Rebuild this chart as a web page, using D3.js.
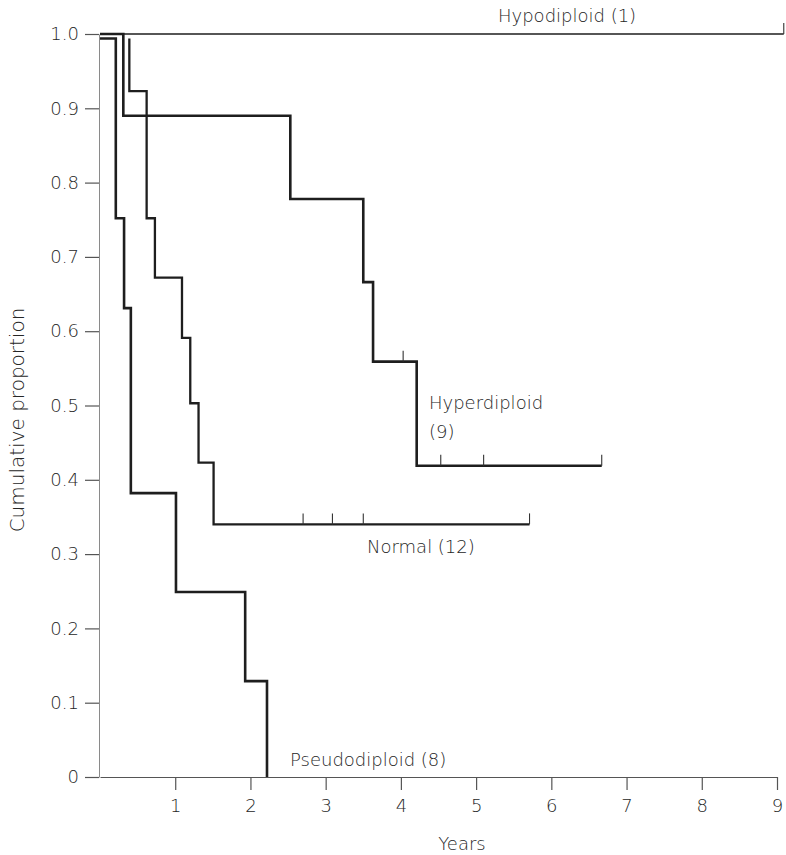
<!DOCTYPE html>
<html>
<head>
<meta charset="utf-8">
<script src="https://cdn.jsdelivr.net/npm/d3@7"></script>
<style>
  html, body { margin: 0; padding: 0; background: #fff; }
  svg { display: block; }
  text { font-family: "DejaVu Sans", "Liberation Sans", sans-serif; fill: #262626; font-weight: 200; }
</style>
</head>
<body>
<svg id="chart" width="786" height="855"></svg>
<script>
// Kaplan-Meier style step curves by karyotype group (years from diagnosis)

// Pseudodiploid (8)
const pseudoTimes = [0, 0.21, 0.32, 0.41, 1.01, 1.93, 2.22];
const pseudoSurv  = [0.994, 0.752, 0.631, 0.382, 0.249, 0.129, 0];
const pseudoEnd   = 2.22;
const pseudoCensor = [];

// Normal (12)
const normalTimes = [0.39, 0.39, 0.62, 0.73, 1.09, 1.20, 1.31, 1.51];
const normalSurv  = [0.994, 0.923, 0.752, 0.672, 0.591, 0.503, 0.423, 0.340];
const normalEnd   = 5.71;
const normalCensor = [2.70, 3.09, 3.50, 5.71];

// Hyperdiploid (9)
const hyperTimes = [0, 0.31, 2.53, 3.50, 3.63, 4.21];
const hyperSurv  = [1.0, 0.890, 0.778, 0.666, 0.559, 0.419];
const hyperEnd   = 6.67;
const hyperCensor = [4.03, 4.53, 5.10, 6.67];

// Hypodiploid (1)
const hypoTimes = [0];
const hypoSurv  = [1.0];
const hypoEnd   = 9.09;
const hypoCensor = [9.09];

// Axis ticks
const xTicks = [1, 2, 3, 4, 5, 6, 7, 8, 9];
const yTicks = [0, 0.1, 0.2, 0.3, 0.4, 0.5, 0.6, 0.7, 0.8, 0.9, 1.0];

const svg = d3.select("#chart");
const x = d3.scaleLinear().domain([0, 9]).range([100, 777]);
const y = d3.scaleLinear().domain([0, 1]).range([777, 34]);

// Y axis
const yAxis = svg.append("g")
  .attr("transform", "translate(99,0)")
  .call(d3.axisLeft(y).tickValues(yTicks).tickSize(14).tickSizeOuter(0)
    .tickFormat(d => d === 0 ? "0" : d3.format(".1f")(d)));
yAxis.attr("font-family", null);
yAxis.select(".domain").attr("stroke", "#8a8a8a").attr("stroke-width", 1);
yAxis.selectAll(".tick line").attr("stroke", "#555").attr("stroke-width", 1.2);
yAxis.selectAll(".tick text").attr("x", -20).attr("font-size", 18).attr("fill", null);

// X axis
const xAxis = svg.append("g")
  .attr("transform", "translate(0,777)")
  .call(d3.axisBottom(x).tickValues(xTicks).tickSize(13).tickSizeOuter(0)
    .tickFormat(d3.format("d")));
xAxis.attr("font-family", null);
xAxis.select(".domain").attr("stroke", "#555").attr("stroke-width", 1.2);
xAxis.selectAll(".tick line").attr("stroke", "#555").attr("stroke-width", 1.2);
xAxis.selectAll(".tick text").attr("y", 22).attr("font-size", 18).attr("fill", null);

// Step curve builder
const step = d3.line().x(d => x(d[0])).y(d => y(d[1])).curve(d3.curveStepAfter);

function drawGroup(times, surv, end, censor, width) {
  const pts = times.map((t, i) => [t, surv[i]]);
  const last = surv[surv.length - 1];
  if (end > times[times.length - 1]) pts.push([end, last]);
  svg.append("path")
    .attr("d", step(pts))
    .attr("fill", "none")
    .attr("stroke", "#1e1e1e")
    .attr("stroke-width", width)
    .attr("stroke-linejoin", "miter");
  // censored cases: short upward ticks at the curve's level at that time
  const levelAt = t => surv[Math.max(0, d3.bisectRight(times, t) - 1)];
  svg.append("g").selectAll("line").data(censor).join("line")
    .attr("x1", d => x(d)).attr("x2", d => x(d))
    .attr("y1", d => y(levelAt(d))).attr("y2", d => y(levelAt(d)) - 11)
    .attr("stroke", "#333").attr("stroke-width", 1.1);
}

drawGroup(hypoTimes, hypoSurv, hypoEnd, hypoCensor, 1.5);
drawGroup(hyperTimes, hyperSurv, hyperEnd, hyperCensor, 2.6);
drawGroup(normalTimes, normalSurv, normalEnd, normalCensor, 2.3);
drawGroup(pseudoTimes, pseudoSurv, pseudoEnd, pseudoCensor, 2.6);

// Group labels
const labels = [
  { text: "Hypodiploid (1)", x: 498, y: 22 },
  { text: "Hyperdiploid", x: 429, y: 409 },
  { text: "(9)", x: 429, y: 438 },
  { text: "Normal (12)", x: 367, y: 553 },
  { text: "Pseudodiploid (8)", x: 290, y: 766 }
];
svg.append("g").selectAll("text").data(labels).join("text")
  .attr("x", d => d.x).attr("y", d => d.y)
  .attr("font-size", 18)
  .text(d => d.text);

// Axis titles
svg.append("text")
  .attr("x", 462).attr("y", 850)
  .attr("text-anchor", "middle")
  .attr("font-size", 18)
  .text("Years");

svg.append("text")
  .attr("transform", "translate(24,420) rotate(-90)")
  .attr("text-anchor", "middle")
  .attr("font-size", 20)
  .text("Cumulative proportion");
</script>
</body>
</html>
